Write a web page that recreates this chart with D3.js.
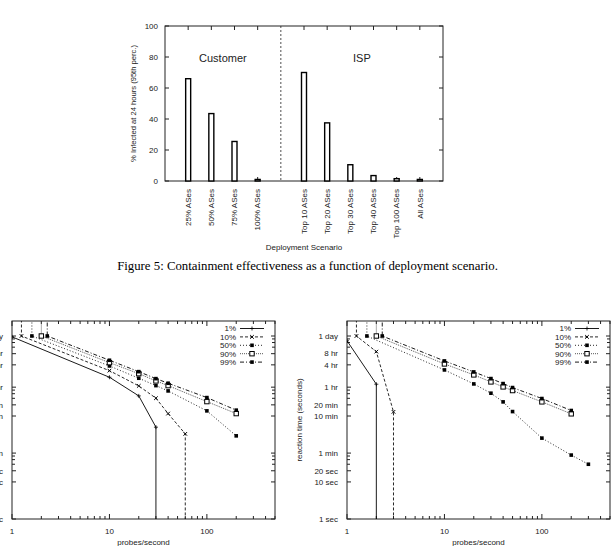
<!DOCTYPE html>
<html><head><meta charset="utf-8">
<script src="https://cdn.jsdelivr.net/npm/d3@7/dist/d3.min.js"></script>
<style>
body{margin:0;background:#fff}
svg{display:block}
text{font-family:"Liberation Sans",Arial,Helvetica,sans-serif;fill:#222}
</style>
</head><body>
<svg id="c" width="615" height="546"></svg>
<script>
// ---------- Figure 5 data (bar chart) ----------
const barCategories = ["25% ASes","50% ASes","75% ASes","100% ASes","Top 10 ASes","Top 20 ASes","Top 30 ASes","Top 40 ASes","Top 100 ASes","All ASes"];
const barGroups = ["Customer","Customer","Customer","Customer","ISP","ISP","ISP","ISP","ISP","ISP"];
const barValues = [66, 43.5, 25.5, 1, 70, 37.5, 10.5, 3.5, 1.5, 1];
const barYTicks = [0, 20, 40, 60, 80, 100];
const groupNames = ["Customer", "ISP"];

// ---------- reaction-time charts data ([probes/second, seconds]) ----------
const ABOVE = 1e7;   // no containment within a day (off the top)
const BELOW = 0.01;  // instant (off the bottom)
const seriesNames = ["1%", "10%", "50%", "90%", "99%"];

const left1  = [[1, 82000], [10, 6670], [20, 2094], [30, 300], [30, BELOW]];
const left10 = [[1.25, ABOVE], [1.25, 86400], [10, 10040], [20, 3890], [30, 1815], [40, 698], [60, 198], [60, BELOW]];
const left50 = [[1.6, ABOVE], [1.6, 86400], [10, 13450], [20, 6270], [30, 3965], [40, 2853], [100, 826], [200, 175]];
const left90 = [[2, ABOVE], [2, 86400], [10, 16500], [20, 8340], [30, 5310], [40, 3965], [100, 1470], [200, 698]];
const left99 = [[2.3, ABOVE], [2.3, 86400], [10, 19150], [20, 9440], [30, 6120], [40, 4600], [100, 1885], [200, 863]];

const right1  = [[1, 64100], [2, 4325], [2, BELOW]];
const right10 = [[1.25, ABOVE], [1.25, 86400], [2, 32750], [3, 778], [3, BELOW]];
const right50 = [[1.6, ABOVE], [1.6, 86400], [10, 10500], [20, 4405], [30, 2474], [40, 1443], [50, 791], [100, 152], [200, 53], [300, 30]];
const right90 = [[2, ABOVE], [2, 86400], [10, 15240], [20, 7710], [30, 4990], [40, 3660], [50, 2918], [100, 1445], [200, 687]];
const right99 = [[2.3, ABOVE], [2.3, 86400], [10, 18360], [20, 9280], [30, 6140], [40, 4500], [50, 3513], [100, 1777], [200, 845]];

const yTickVals   = [1, 10, 20, 60, 600, 1200, 3600, 14400, 28800, 86400];
const yTickLabels = ["1 sec", "10 sec", "20 sec", "1 min", "10 min", "20 min", "1 hr", "4 hr", "8 hr", "1 day"];
const yMinorVals  = [30, 40, 50, 1800, 2400, 3000, 43200, 57600, 72000];
const xTickVals   = [1, 10, 100];
const xMinorVals  = [2,3,4,5,6,7,8,9,20,30,40,50,60,70,80,90,200,300,400,500];

const svg = d3.select("#c");
const INK = "#222";

// ================= Bar chart =================
(function(){
  const L = 165, R = 443, T = 26, B = 181;
  const slot = barCategories.map((c, i) => barGroups[i] === "Customer" ? i : i + 1);
  const x = d3.scaleLinear().domain([-1, 11]).range([L, R]);
  const y = d3.scaleLinear().domain([0, 100]).range([B, T]);
  const g = svg.append("g");

  g.append("rect").attr("x", L).attr("y", T).attr("width", R - L).attr("height", B - T)
    .attr("fill", "none").attr("stroke", INK).attr("stroke-width", 1);

  barYTicks.forEach(v => {
    g.append("line").attr("x1", L).attr("x2", L + 4).attr("y1", y(v)).attr("y2", y(v)).attr("stroke", INK);
    g.append("line").attr("x1", R).attr("x2", R - 4).attr("y1", y(v)).attr("y2", y(v)).attr("stroke", INK);
    g.append("text").attr("x", L - 7).attr("y", y(v)).attr("dy", "0.35em")
      .attr("text-anchor", "end").attr("font-size", 8).text(v);
  });
  slot.forEach(s => {
    g.append("line").attr("x1", x(s)).attr("x2", x(s)).attr("y1", T).attr("y2", T + 4).attr("stroke", INK);
    g.append("line").attr("x1", x(s)).attr("x2", x(s)).attr("y1", B).attr("y2", B - 4).attr("stroke", INK);
  });
  g.append("line").attr("x1", x(4)).attr("x2", x(4)).attr("y1", T).attr("y2", B)
    .attr("stroke", INK).attr("stroke-width", 0.8).attr("stroke-dasharray", "2,2");

  const bw = 5;
  g.selectAll("rect.bar").data(barValues).enter().append("rect").attr("class", "bar")
    .attr("x", (d, i) => x(slot[i]) - bw / 2).attr("y", d => y(d))
    .attr("width", bw).attr("height", d => y(0) - y(d))
    .attr("fill", "#fff").attr("stroke", "#000").attr("stroke-width", 1.4);

  barCategories.forEach((c, i) => {
    g.append("text").attr("transform", `translate(${x(slot[i])},${B + 8}) rotate(-90)`)
      .attr("dy", "0.35em").attr("text-anchor", "end").attr("font-size", 8).text(c);
  });
  g.append("text").attr("x", x(1.5)).attr("y", 61.5).attr("text-anchor", "middle").attr("font-size", 11).text(groupNames[0]);
  g.append("text").attr("x", x(7.5)).attr("y", 61.5).attr("text-anchor", "middle").attr("font-size", 11).text(groupNames[1]);

  g.append("text").attr("transform", `translate(${L - 29},${(T + B) / 2}) rotate(-90)`)
    .attr("text-anchor", "middle").attr("font-size", 7.6).text("% Infected at 24 hours (95th perc.)");
  g.append("text").attr("x", (L + R) / 2).attr("y", 250).attr("text-anchor", "middle").attr("font-size", 8).text("Deployment Scenario");
})();

svg.append("text").attr("x", 307.5).attr("y", 269.5).attr("text-anchor", "middle")
  .style("font-family", "'Liberation Serif','Times New Roman',serif").attr("font-size", 12.8).style("fill", "#000")
  .text("Figure 5: Containment effectiveness as a function of deployment scenario.");

// ================= Reaction-time charts =================
const seriesDash = [null, "3,2", "1,2", "1,1", "4,2,1,2"];
const seriesMarker = ["plus", "cross", "fsq", "osq", "fsq"];
const seriesColor = ["#000", "#111", "#111", "#444", "#000"];

function drawMarker(g, type, cx, cy) {
  if (type === "plus") {
    g.append("path").attr("d", `M${cx-2},${cy}H${cx+2}M${cx},${cy-2}V${cy+2}`).attr("stroke", "#000").attr("stroke-width", 0.8);
  } else if (type === "cross") {
    g.append("path").attr("d", `M${cx-1.8},${cy-1.8}L${cx+1.8},${cy+1.8}M${cx-1.8},${cy+1.8}L${cx+1.8},${cy-1.8}`).attr("stroke", "#000").attr("stroke-width", 1);
  } else if (type === "fsq") {
    g.append("rect").attr("x", cx - 1.8).attr("y", cy - 1.8).attr("width", 3.6).attr("height", 3.6).attr("fill", "#000");
  } else if (type === "osq") {
    g.append("rect").attr("x", cx - 2.2).attr("y", cy - 2.2).attr("width", 4.4).attr("height", 4.4).attr("fill", "#fff").attr("stroke", "#000").attr("stroke-width", 1);
  }
}

function reactionChart(id, L, R, series, showYTitle) {
  const T = 321, B = 519;
  const x = d3.scaleLog().domain([1, 500]).range([L, R]);
  const y = d3.scaleLog().domain([1, 86400]).range([B, 336]);
  const g = svg.append("g");
  g.append("clipPath").attr("id", id).append("rect").attr("x", L).attr("y", T).attr("width", R - L).attr("height", B - T);

  g.append("rect").attr("x", L).attr("y", T).attr("width", R - L).attr("height", B - T)
    .attr("fill", "none").attr("stroke", INK).attr("stroke-width", 1);

  yTickVals.forEach((v, i) => {
    g.append("line").attr("x1", L).attr("x2", L + 4).attr("y1", y(v)).attr("y2", y(v)).attr("stroke", INK);
    g.append("line").attr("x1", R).attr("x2", R - 4).attr("y1", y(v)).attr("y2", y(v)).attr("stroke", INK);
    g.append("text").attr("x", L - 9).attr("y", y(v)).attr("dy", "0.35em").attr("text-anchor", "end")
      .attr("font-size", 8).text(yTickLabels[i]);
  });
  yMinorVals.forEach(v => {
    g.append("line").attr("x1", L).attr("x2", L + 3).attr("y1", y(v)).attr("y2", y(v)).attr("stroke", INK);
    g.append("line").attr("x1", R).attr("x2", R - 3).attr("y1", y(v)).attr("y2", y(v)).attr("stroke", INK);
  });
  xTickVals.forEach(v => {
    g.append("line").attr("x1", x(v)).attr("x2", x(v)).attr("y1", B).attr("y2", B - 5).attr("stroke", INK);
    g.append("line").attr("x1", x(v)).attr("x2", x(v)).attr("y1", T).attr("y2", T + 5).attr("stroke", INK);
    g.append("text").attr("x", x(v)).attr("y", 534).attr("text-anchor", "middle").attr("font-size", 8).text(v);
  });
  xMinorVals.forEach(v => {
    g.append("line").attr("x1", x(v)).attr("x2", x(v)).attr("y1", B).attr("y2", B - 3).attr("stroke", INK);
    g.append("line").attr("x1", x(v)).attr("x2", x(v)).attr("y1", T).attr("y2", T + 3).attr("stroke", INK);
  });

  g.append("text").attr("x", (L + R) / 2).attr("y", 545).attr("text-anchor", "middle").attr("font-size", 8).text("probes/second");
  if (showYTitle) {
    g.append("text").attr("transform", `translate(${L - 45},${(T + B) / 2}) rotate(-90)`)
      .attr("text-anchor", "middle").attr("font-size", 8).text("reaction time (seconds)");
  }

  const line = d3.line().x(d => x(d[0])).y(d => y(d[1]));
  const pg = g.append("g").attr("clip-path", `url(#${id})`);
  series.forEach((s, k) => {
    pg.append("path").attr("d", line(s)).attr("fill", "none").attr("stroke", seriesColor[k])
      .attr("stroke-width", 0.9).attr("stroke-dasharray", seriesDash[k]);
    s.forEach(d => drawMarker(pg, seriesMarker[k], x(d[0]), y(d[1])));
  });

  seriesNames.forEach((n, k) => {
    const ly = 328.5 + k * 8.4;
    g.append("text").attr("x", R - 39).attr("y", ly).attr("dy", "0.35em").attr("text-anchor", "end")
      .attr("font-size", 8).text(n);
    g.append("line").attr("x1", R - 35).attr("x2", R - 11).attr("y1", ly).attr("y2", ly)
      .attr("stroke", seriesColor[k]).attr("stroke-width", 0.9).attr("stroke-dasharray", seriesDash[k]);
    drawMarker(g, seriesMarker[k], R - 23, ly);
  });
}

reactionChart("clipL", 12, 275, [left1, left10, left50, left90, left99], true);
reactionChart("clipR", 347, 610, [right1, right10, right50, right90, right99], true);
</script>
</body></html>
